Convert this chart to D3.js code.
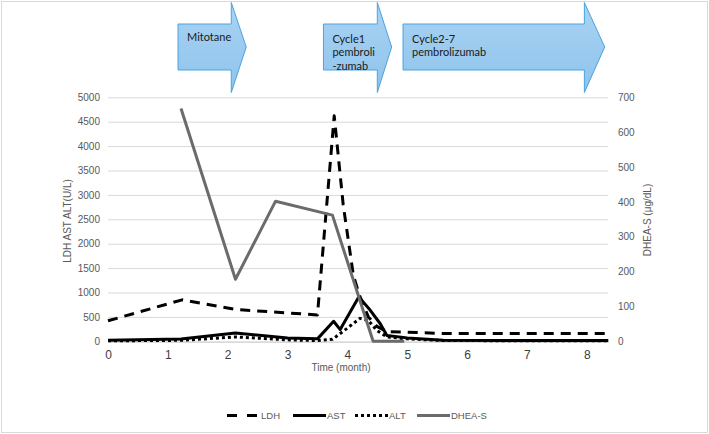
<!DOCTYPE html>
<html><head><meta charset="utf-8">
<script src="https://cdn.jsdelivr.net/npm/d3@7"></script>
<style>body{margin:0;background:#fff}svg{display:block}</style>
</head><body>
<svg id="c" width="709" height="434"></svg>
<script>
// ---- data ----
const ldhMonths = [0, 1.24, 2.15, 3.5, 3.78, 3.93, 4.1, 4.2, 4.35, 4.5, 4.66, 5.6, 8.36];
const ldhValues = [420, 850, 650, 540, 4620, 2800, 1350, 950, 500, 300, 200, 160, 160];
const astMonths = [0, 1.22, 2.13, 3.0, 3.5, 3.77, 3.88, 4.19, 4.38, 4.55, 4.66, 5.0, 5.6, 8.36];
const astValues = [20, 45, 170, 70, 50, 410, 240, 910, 640, 360, 120, 70, 20, 15];
const altMonths = [0, 1.22, 2.13, 3.0, 3.5, 3.75, 3.99, 4.21, 4.35, 4.49, 4.66, 5.0, 5.6, 8.36];
const altValues = [10, 20, 90, 30, 15, 40, 260, 470, 430, 225, 90, 50, 15, 10];
const dheaMonths = [1.22, 2.13, 2.8, 3.75, 4.43, 4.95];
const dheaValues = [668, 178, 402, 362, 0, 0];
const xTicks = [0, 1, 2, 3, 4, 5, 6, 7, 8];
const yLeftTicks = [0, 500, 1000, 1500, 2000, 2500, 3000, 3500, 4000, 4500, 5000];
const yRightTicks = [0, 100, 200, 300, 400, 500, 600, 700];
const arrowLabels = [["Mitotane"], ["Cycle1", "pembroli", "-zumab"], ["Cycle2-7", "pembrolizumab"]];
const arrowStart = [1.17, 3.6, 4.93];   // months
const arrowHeadStart = [2.06, 4.5, 7.96];
const arrowTip = [2.31, 4.74, 8.3];
const seriesNames = ["LDH", "AST", "ALT", "DHEA-S"];

// ---- layout ----
const svg = d3.select("#c");
const x = d3.scaleLinear().domain([0, 8.36]).range([108, 608.3]);
const yL = d3.scaleLinear().domain([0, 5000]).range([341.3, 97.3]);
const yR = d3.scaleLinear().domain([0, 700]).range([341.3, 97.3]);
const grey = "#595959";
const styles = {
  "LDH": {color: "#000", dash: "10,7", width: 3},
  "AST": {color: "#000", dash: null, width: 3},
  "ALT": {color: "#000", dash: "3,3", width: 3},
  "DHEA-S": {color: "#6b6b6b", dash: null, width: 3}
};

// chart border
svg.append("rect").attr("x", 1.5).attr("y", 1.5).attr("width", 706).attr("height", 431)
  .attr("fill", "#fff").attr("stroke", "#d9d9d9");

// gridlines
svg.append("g").selectAll("line").data(yLeftTicks).join("line")
  .attr("x1", x.range()[0]).attr("x2", x.range()[1])
  .attr("y1", d => yL(d) + 0.5).attr("y2", d => yL(d) + 0.5)
  .attr("stroke", "#d9d9d9").attr("stroke-width", 1);

// left axis
const gl = svg.append("g").attr("transform", "translate(100,0)")
  .call(d3.axisLeft(yL).tickValues(yLeftTicks).tickFormat(d3.format("d")).tickSize(0).tickPadding(0));
gl.select(".domain").remove();
gl.selectAll("text").attr("fill", grey).style("font", "10px 'Liberation Sans', Arial, sans-serif");

// right axis
const gr = svg.append("g").attr("transform", "translate(618,0)")
  .call(d3.axisRight(yR).tickValues(yRightTicks).tickFormat(d3.format("d")).tickSize(0).tickPadding(0));
gr.select(".domain").remove();
gr.selectAll("text").attr("fill", grey).style("font", "10px 'Liberation Sans', Arial, sans-serif");

// bottom axis
const gb = svg.append("g").attr("transform", "translate(0,342)")
  .call(d3.axisBottom(x).tickValues(xTicks).tickFormat(d3.format("d")).tickSize(0).tickPadding(8));
gb.select(".domain").attr("stroke", "#d9d9d9");
gb.selectAll("text").attr("fill", "#404040").style("font", "12px 'Liberation Sans', Arial, sans-serif");

// axis titles
svg.append("text").attr("transform", "translate(71,221) rotate(-90)").attr("text-anchor", "middle")
  .attr("fill", grey).style("font", "10px 'Liberation Sans', Arial, sans-serif").text("LDH AST ALT(U/L)");
svg.append("text").attr("transform", "translate(651,220) rotate(-90)").attr("text-anchor", "middle")
  .attr("fill", grey).style("font", "10px 'Liberation Sans', Arial, sans-serif").text("DHEA-S (μg/dL)");
svg.append("text").attr("x", 341).attr("y", 371).attr("text-anchor", "middle")
  .attr("fill", grey).style("font", "10px 'Liberation Sans', Arial, sans-serif").text("Time (month)");

// series
const series = [
  {name: "LDH", m: ldhMonths, v: ldhValues, y: yL},
  {name: "AST", m: astMonths, v: astValues, y: yL},
  {name: "ALT", m: altMonths, v: altValues, y: yL},
  {name: "DHEA-S", m: dheaMonths, v: dheaValues, y: yR}
];
series.forEach(s => {
  const pts = s.m.map((m, i) => [m, s.v[i]]);
  const line = d3.line().x(d => x(d[0])).y(d => s.y(d[1]));
  const st = styles[s.name];
  svg.append("path").datum(pts).attr("d", line).attr("fill", "none")
    .attr("stroke", st.color).attr("stroke-width", st.width)
    .attr("stroke-dasharray", st.dash).attr("stroke-linejoin", "round");
});

// arrows
const defs = svg.append("defs");
const grad = defs.append("linearGradient").attr("id", "ag").attr("x1", 0).attr("y1", 0).attr("x2", 0).attr("y2", 1);
grad.append("stop").attr("offset", 0).attr("stop-color", "#a9d3f3");
grad.append("stop").attr("offset", 1).attr("stop-color", "#8fc3ec");
const bodyTop = 24, bodyBot = 70, headTop = 2.5, headBot = 92.5, tipY = 47;
arrowLabels.forEach((lbl, i) => {
  const x0 = x(arrowStart[i]), xh = x(arrowHeadStart[i]), xt = x(arrowTip[i]);
  const p = d3.path();
  p.moveTo(x0, bodyTop); p.lineTo(xh, bodyTop); p.lineTo(xh, headTop); p.lineTo(xt, tipY);
  p.lineTo(xh, headBot); p.lineTo(xh, bodyBot); p.lineTo(x0, bodyBot); p.closePath();
  svg.append("path").attr("d", p.toString()).attr("fill", "url(#ag)")
    .attr("stroke", "#4aa3df").attr("stroke-width", 1);
  const t = svg.append("text").attr("fill", "#1a1a1a")
    .style("font", "11px Lato, 'Noto Sans', sans-serif");
  const firstY = lbl.length === 1 ? 40.5 : 43;
  lbl.forEach((s, j) => {
    t.append("tspan").attr("x", x0 + 9).attr("y", firstY + j * 13.3).text(s);
  });
});

// legend
const legX = [227, 293, 355, 417];
const lg = svg.append("g");
seriesNames.forEach((n, i) => {
  const st = styles[n];
  lg.append("line").attr("x1", legX[i]).attr("x2", legX[i] + 33).attr("y1", 415.5).attr("y2", 415.5)
    .attr("stroke", st.color).attr("stroke-width", st.width)
    .attr("stroke-dasharray", n === "LDH" ? "10,10" : st.dash);
  lg.append("text").attr("x", legX[i] + 34).attr("y", 419).attr("fill", grey)
    .style("font", "9.5px 'Liberation Sans', Arial, sans-serif").text(n);
});
</script>
</body></html>
